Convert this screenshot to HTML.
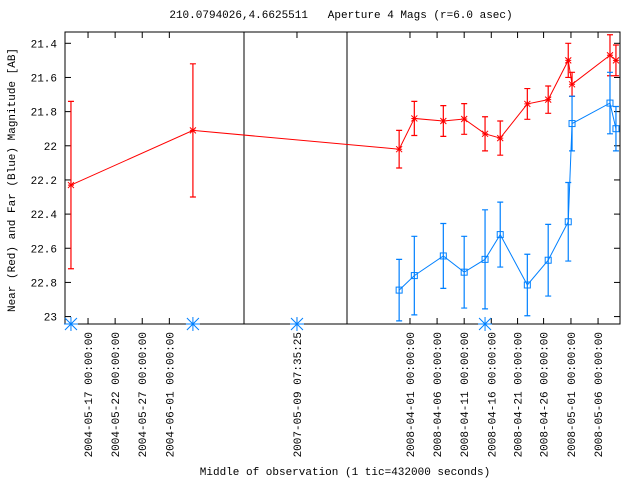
<!DOCTYPE html>
<html><head><meta charset="utf-8"><style>
body{margin:0;background:#fff}
svg{display:block;font-family:"Liberation Mono","DejaVu Sans Mono",monospace;font-size:11px}
</style></head><body>
<svg id="c" width="640" height="480">
<text x="341" y="18" text-anchor="middle" xml:space="preserve">210.0794026,4.6625511   Aperture 4 Mags (r=6.0 asec)</text>
<text transform="translate(15,180) rotate(-90)" text-anchor="middle">Near (Red) and Far (Blue) Magnitude [AB]</text>
<text x="345" y="475" text-anchor="middle">Middle of observation (1 tic=432000 seconds)</text>
<rect x="65" y="32" width="555" height="292" fill="none" stroke="#000"/>
<line x1="244" y1="32" x2="244" y2="324" stroke="#000"/>
<line x1="347" y1="32" x2="347" y2="324" stroke="#000"/>
</svg>
<script>
const yTicks=[21.4,21.6,21.8,22,22.2,22.4,22.6,22.8,23];
const xTickPos=[0.85,1.85,2.85,3.85,8.56,12.73,13.73,14.73,15.73,16.7,17.66,18.67,19.67];
const xTickLabels=["2004-05-17  00:00:00","2004-05-22  00:00:00","2004-05-27  00:00:00","2004-06-01  00:00:00","2007-05-09  07:35:25","2008-04-01  00:00:00","2008-04-06  00:00:00","2008-04-11  00:00:00","2008-04-16  00:00:00","2008-04-21  00:00:00","2008-04-26  00:00:00","2008-05-01  00:00:00","2008-05-06  00:00:00"];
const redX=[0.22,4.72,12.33,12.89,13.96,14.73,15.5,16.06,17.06,17.83,18.57,18.71,20.11,20.33];
const redY=[22.23,21.91,22.02,21.84,21.855,21.843,21.93,21.955,21.755,21.73,21.50,21.64,21.47,21.50];
const redErr=[0.49,0.39,0.11,0.10,0.09,0.09,0.10,0.10,0.09,0.08,0.10,0.07,0.12,0.09];
const blueX=[12.33,12.89,13.96,14.73,15.5,16.06,17.06,17.83,18.57,18.71,20.11,20.33];
const blueY=[22.845,22.76,22.645,22.74,22.665,22.52,22.815,22.67,22.445,21.87,21.75,21.90];
const blueErr=[0.18,0.23,0.19,0.21,0.29,0.19,0.18,0.21,0.23,0.16,0.18,0.13];
const limitX=[0.22,4.72,8.56,15.5];
const NS="http://www.w3.org/2000/svg",svg=document.getElementById('c');
const xS=u=>65+u*27.1, yS=m=>43.3+(m-21.4)*170.8;
function el(t,a,p){const e=document.createElementNS(NS,t);for(const k in a)e.setAttribute(k,a[k]);(p||svg).appendChild(e);return e;}
yTicks.forEach(v=>{const y=yS(v);
 const t=el('text',{x:57,y:y+4,'text-anchor':'end'});t.textContent=String(v);
 
 
 el('line',{x1:65,y1:y,x2:71,y2:y,stroke:'#000'});el('line',{x1:614,y1:y,x2:620,y2:y,stroke:'#000'});});
xTickPos.forEach((u,i)=>{const x=xS(u);
 el('line',{x1:x,y1:324,x2:x,y2:318,stroke:'#000'});el('line',{x1:x,y1:32,x2:x,y2:38,stroke:'#000'});
 const t=el('text',{transform:`translate(${x+4},332) rotate(-90)`,'text-anchor':'end','xml:space':'preserve'});t.textContent=xTickLabels[i];
 
 });
function series(X,Y,E,col,name,mk){
 const g=el('g',{stroke:col,fill:'none'});
 
 
 el('polyline',{points:X.map((u,i)=>xS(u)+','+yS(Y[i])).join(' ')},g);
 X.forEach((u,i)=>{const x=xS(u),y=yS(Y[i]),a=yS(Y[i]-E[i]),b=yS(Y[i]+E[i]);
  el('path',{d:`M${x},${a}V${b}M${x-3},${a}h6M${x-3},${b}h6`,'stroke-width':1.2},g);
  let m;
  if(mk==='star')m=el('path',{d:`M${x-3},${y-3}l6,6M${x-3},${y+3}l6,-6M${x},${y-3}v6M${x-3},${y}h6`},g);
  else m=el('rect',{x:x-3,y:y-3,width:6,height:6},g);
  
  });
}
series(redX,redY,redErr,'#f00','near-red','star');
series(blueX,blueY,blueErr,'#0080ff','far-blue','sq');
limitX.forEach(u=>{const x=xS(u),y=324;
 const m=el('path',{d:`M${x-6},${y-6}l12,12M${x-6},${y+6}l12,-12M${x},${y-7}v14M${x-7},${y}h14`,stroke:'#0080ff'});
 
 });
</script>
</body></html>
